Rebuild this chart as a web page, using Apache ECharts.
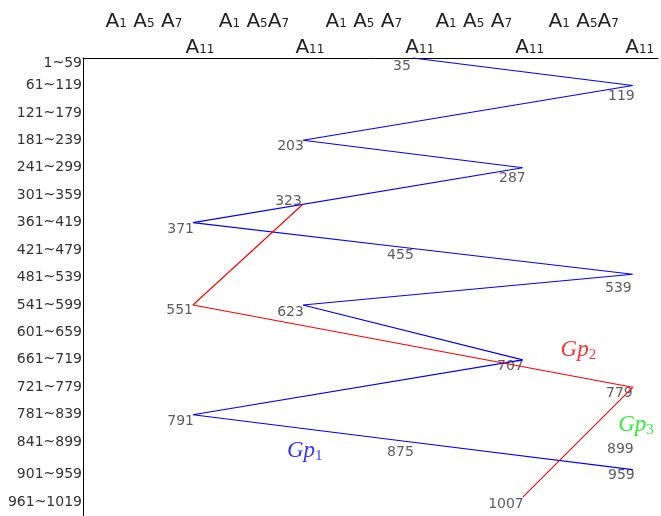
<!DOCTYPE html>
<html><head><meta charset="utf-8">
<script src="https://cdn.jsdelivr.net/npm/echarts@6/dist/echarts.min.js"></script>
<style>html,body{margin:0;padding:0;background:#fff}#c{width:661px;height:516px}</style>
</head><body><div id="c"></div>
<script>
// ---- data ----
const rowLabels = ['1~59','61~119','121~179','181~239','241~299','301~359','361~419','421~479','481~539','541~599','601~659','661~719','721~779','781~839','841~899','901~959','961~1019'];
const colTopLabels = ['A1 A5 A7','A1 A5A7','A1 A5 A7','A1 A5 A7','A1 A5A7'];
const colBottomLabels = ['A11','A11','A11','A11','A11'];

const gp1Values = [35,119,203,287,371,455,539,623,707,791,875,959];
const gp1Cols   = [3,5,2,4,1,3,5,2,4,1,3,5];
const gp1Rows   = [0,1,3,4,6,6.94,7.88,9,11,13,14,15];

const gp2Values = [323,551,779,1007];
const gp2Cols   = [2,1,5,4];
const gp2Rows   = [5.33,9,12,16];

const gp3Values = [899];
const gp3Cols   = [5];
const gp3Rows   = [14];

const groupNames = ['1','2','3'];

// ---- styles ----
const labelOffsets = {35:[-2,8],119:[2,11],203:[1,6],287:[3,11],539:[-1,14],875:[1,10],959:[2,6],323:[-1,-3],551:[0,5],779:[0,6]};
const defaultOffset = [1,7];
const shiftDownRows = [0,15,16];
const TXT = '#333';

function toPts(cols, rows){ return cols.map((c,i)=>[c, rows[i]]); }
function labelPts(vals, cols, rows){
  return vals.map((v,i)=>({value:[cols[i], rows[i]], v:v,
    label:{offset: labelOffsets[v] || defaultOffset}}));
}
function richA(s){
  return s.replace(/A(\d+)/g, '{a|A}{s|$1}').replace(/ /g, '{sp| }');
}
const topRich = colTopLabels.map(richA);
const botRich = colBottomLabels.map(richA);
const aRich = {
  a:{fontSize:20, lineHeight:20, fontFamily:'DejaVu Sans', color:'#222'},
  sp:{fontSize:20, lineHeight:20, fontFamily:'DejaVu Sans', color:'#222'},
  s:{fontSize:12, padding:[4,0,0,0], fontFamily:'DejaVu Sans', color:'#222'}
};
function colFmt(arr){
  return function(v){
    const i = Math.round(v);
    if (Math.abs(v-i) > 1e-6 || i < 1 || i > arr.length) return '';
    return arr[i-1];
  };
}
function gpLabel(color, sub){
  return {show:true, position:'inside', align:'left', verticalAlign:'middle',
    formatter:'{g|Gp}{s|'+sub+'}',
    rich:{
      g:{fontFamily:'Liberation Serif', fontStyle:'italic', fontSize:23, lineHeight:26, color:color},
      s:{fontFamily:'Liberation Serif', fontSize:15, lineHeight:4, verticalAlign:'bottom', color:color}
    }};
}
const axisCommon = {type:'value', min:0, max:5.23, interval:1, position:'top',
  axisTick:{show:false}, splitLine:{show:false}};

const chart = echarts.init(document.getElementById('c'), null, {renderer:'canvas'});
chart.setOption({
  animation:false,
  backgroundColor:'#fff',
  grid:{left:83, right:0, top:58, bottom:0, containLabel:false},
  xAxis:[
    Object.assign({}, axisCommon, {
      axisLine:{show:true, onZero:false, lineStyle:{color:'#000', width:1}},
      axisLabel:{show:true, margin:26, align:'center', padding:[0,98,0,0], formatter:colFmt(topRich), rich:aRich}
    }),
    Object.assign({}, axisCommon, {
      axisLine:{show:false},
      axisLabel:{show:true, margin:0, align:'center', padding:[0,0,0,14], formatter:colFmt(botRich), rich:aRich}
    })
  ],
  yAxis:{type:'value', inverse:true, min:0, max:16.69, interval:1,
    axisLine:{show:true, onZero:false, lineStyle:{color:'#000', width:1}},
    axisTick:{show:false}, splitLine:{show:false},
    axisLabel:{margin:1, fontSize:14, lineHeight:10, fontFamily:'DejaVu Sans', color:TXT,
      formatter:function(v){
        const i = Math.round(v);
        if (Math.abs(v-i) > 1e-6 || i < 0 || i >= rowLabels.length) return '';
        return shiftDownRows.indexOf(i) >= 0 ? '\n'+rowLabels[i] : rowLabels[i];
      }}
  },
  series:[
    {type:'line', name:'Gp1', data:toPts(gp1Cols, gp1Rows), symbol:'none', clip:false, silent:true,
      lineStyle:{color:'#0000ff', width:1.1}},
    {type:'line', name:'Gp2', data:toPts(gp2Cols, gp2Rows), symbol:'none', clip:false, silent:true,
      lineStyle:{color:'#ff0000', width:1.1}},
    {type:'scatter', name:'labels', clip:false, silent:true, symbolSize:1,
      itemStyle:{color:'rgba(0,0,0,0)'},
      data: labelPts(gp1Values, gp1Cols, gp1Rows)
        .concat(labelPts(gp2Values, gp2Cols, gp2Rows))
        .concat(labelPts(gp3Values, gp3Cols, gp3Rows)),
      label:{show:true, position:'inside', align:'right', verticalAlign:'middle',
        fontSize:14, fontFamily:'DejaVu Sans', color:TXT,
        formatter:function(p){ return String(p.data.v); }}},
    {type:'scatter', name:'g1', clip:false, silent:true, symbolSize:1, itemStyle:{color:'rgba(0,0,0,0)'},
      data:[[1.855,14.32]], label:gpLabel('#0000ff', groupNames[0])},
    {type:'scatter', name:'g2', clip:false, silent:true, symbolSize:1, itemStyle:{color:'rgba(0,0,0,0)'},
      data:[[4.344,10.64]], label:gpLabel('#ff0000', groupNames[1])},
    {type:'scatter', name:'g3', clip:false, silent:true, symbolSize:1, itemStyle:{color:'rgba(0,0,0,0)'},
      data:[[4.868,13.37]], label:gpLabel('#00ee00', groupNames[2])}
  ]
});
</script></body></html>
